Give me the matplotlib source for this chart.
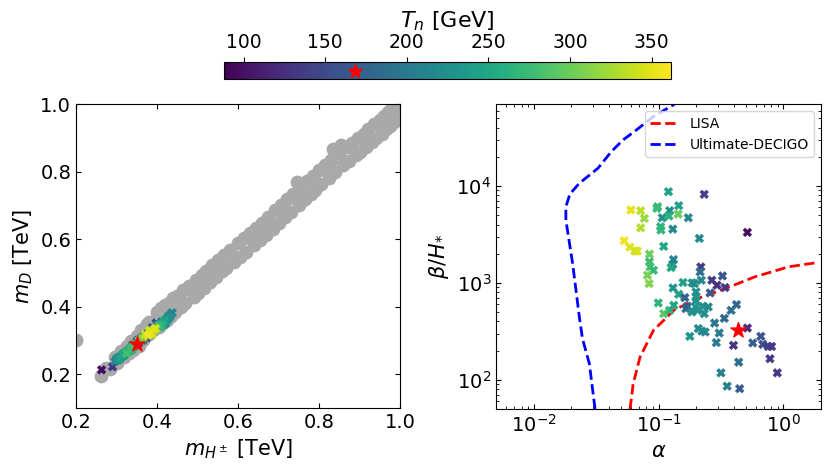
import numpy as np
import matplotlib
matplotlib.use('Agg')
from matplotlib import pyplot as plt
from matplotlib.colors import Normalize

# scanned points failing the GW condition (grey band)
mH_all = [0.200, 0.262, 0.275, 0.285, 0.295, 0.300, 0.310, 0.318, 0.325, 0.330, 0.335, 0.340,
          0.350, 0.355, 0.360, 0.365, 0.375, 0.380, 0.380, 0.390, 0.400, 0.405, 0.410, 0.415,
          0.420, 0.425, 0.430, 0.435, 0.440, 0.445, 0.450, 0.460, 0.465, 0.470, 0.480, 0.490,
          0.495, 0.500, 0.510, 0.515, 0.520, 0.530, 0.535, 0.545, 0.550, 0.560, 0.565, 0.570,
          0.580, 0.590, 0.600, 0.605, 0.615, 0.620, 0.630, 0.640, 0.645, 0.655, 0.660, 0.670,
          0.675, 0.685, 0.690, 0.700, 0.705, 0.715, 0.720, 0.730, 0.735, 0.745, 0.750, 0.755,
          0.765, 0.770, 0.780, 0.785, 0.790, 0.800, 0.805, 0.815, 0.825, 0.830, 0.835, 0.840,
          0.850, 0.855, 0.860, 0.870, 0.875, 0.880, 0.890, 0.895, 0.900, 0.910, 0.915, 0.920,
          0.930, 0.935, 0.940, 0.950, 0.955, 0.960, 0.965, 0.970, 0.975, 0.980, 0.985, 0.990,
          0.995, 1.000]
mD_all = [0.300, 0.195, 0.218, 0.215, 0.250, 0.232, 0.268, 0.250, 0.285, 0.262, 0.298, 0.272,
          0.312, 0.285, 0.330, 0.300, 0.348, 0.318, 0.355, 0.330, 0.385, 0.340, 0.395, 0.352,
          0.405, 0.362, 0.412, 0.372, 0.425, 0.385, 0.432, 0.400, 0.448, 0.410, 0.462, 0.428,
          0.478, 0.440, 0.495, 0.455, 0.505, 0.472, 0.522, 0.488, 0.538, 0.505, 0.552, 0.515,
          0.568, 0.532, 0.590, 0.548, 0.602, 0.562, 0.618, 0.582, 0.632, 0.598, 0.648, 0.612,
          0.665, 0.630, 0.685, 0.648, 0.700, 0.665, 0.718, 0.680, 0.735, 0.770, 0.702, 0.752,
          0.718, 0.772, 0.735, 0.788, 0.745, 0.805, 0.762, 0.818, 0.782, 0.835, 0.868, 0.798,
          0.855, 0.880, 0.818, 0.872, 0.832, 0.885, 0.848, 0.898, 0.858, 0.912, 0.872, 0.925,
          0.888, 0.940, 0.898, 0.952, 0.912, 0.965, 0.925, 0.975, 0.935, 0.990, 0.948, 1.000,
          0.958, 0.990]

# points with a detectable first-order transition
alpha = [0.120, 0.232, 0.060, 0.0719, 0.0982, 0.0969, 0.1227, 0.145, 0.077, 0.107,
         0.121, 0.1436, 0.173, 0.0719, 0.1038, 0.1045, 0.130, 0.514, 0.212, 0.053,
         0.0589, 0.0647, 0.0676, 0.1099, 0.0845, 0.0845, 0.1316, 0.130, 0.0856, 0.091,
         0.126, 0.218, 0.0815, 0.084, 0.215, 0.220, 0.157, 0.186, 0.194, 0.1306,
         0.145, 0.1624, 0.1995, 0.1995, 0.1995, 0.259, 0.267, 0.294, 0.325, 0.341,
         0.0994, 0.110, 0.1227, 0.1323, 0.1656, 0.170, 0.198, 0.226, 0.250, 0.232,
         0.205, 0.185, 0.421, 0.381, 0.281, 0.336, 0.208, 0.222, 0.236, 0.306,
         0.178, 0.514, 0.290, 0.398, 0.568, 0.659, 0.684, 0.756, 0.804, 0.438,
         0.780, 0.316, 0.893, 0.354, 0.446]
beta_H = [8730, 8200, 5650, 5560, 6110, 5870, 5560, 6270, 4630, 4700,
          4900, 5130, 4700, 3700, 3800, 3510, 3590, 3320, 2880, 2720,
          2340, 2130, 2130, 2380, 1980, 1650, 1740, 1550, 1460, 1350,
          1440, 1460, 1200, 985, 1300, 1065, 1010, 1000, 985, 887,
          763, 705, 807, 717, 651, 788, 1065, 946, 1180, 895,
          621, 482, 521, 587, 542, 574, 565, 574, 565, 482,
          521, 501, 597, 521, 385, 431, 338, 319, 311, 304,
          281, 342, 242, 227, 240, 281, 232, 221, 221, 152,
          165, 118, 118, 86, 81]
Tn = [240, 140, 350, 335, 270, 275, 220, 245, 320, 225,
      260, 300, 215, 330, 265, 268, 215, 95, 215, 355,
      350, 340, 345, 250, 300, 275, 210, 215, 280, 270,
      250, 135, 305, 310, 185, 215, 240, 220, 222, 230,
      245, 170, 222, 225, 228, 165, 135, 125, 160, 130,
      265, 290, 265, 250, 190, 170, 225, 225, 220, 222,
      225, 222, 175, 185, 195, 180, 215, 218, 215, 200,
      230, 120, 200, 130, 170, 160, 150, 140, 135, 185,
      135, 205, 130, 205, 165]
mH = [0.415, 0.372, 0.385, 0.392, 0.345, 0.335, 0.425, 0.322, 0.380, 0.305,
      0.412, 0.360, 0.432, 0.388, 0.330, 0.402, 0.318, 0.263, 0.436, 0.378,
      0.395, 0.370, 0.383, 0.418, 0.355, 0.340, 0.310, 0.420, 0.325, 0.405,
      0.315, 0.398, 0.365, 0.398, 0.362, 0.428, 0.308, 0.422, 0.312, 0.415,
      0.328, 0.345, 0.303, 0.430, 0.320, 0.375, 0.352, 0.368, 0.388, 0.380,
      0.338, 0.348, 0.408, 0.318, 0.355, 0.400, 0.426, 0.313, 0.410, 0.300,
      0.422, 0.332, 0.342, 0.392, 0.357, 0.350, 0.418, 0.306, 0.428, 0.365,
      0.325, 0.385, 0.403, 0.340, 0.360, 0.395, 0.348, 0.378, 0.358, 0.412,
      0.366, 0.296, 0.290, 0.437, 0.335]
mD = [0.352, 0.312, 0.322, 0.330, 0.290, 0.278, 0.365, 0.262, 0.326, 0.246,
      0.348, 0.302, 0.372, 0.318, 0.268, 0.342, 0.255, 0.213, 0.380, 0.315,
      0.335, 0.318, 0.330, 0.358, 0.300, 0.282, 0.250, 0.350, 0.262, 0.345,
      0.258, 0.352, 0.308, 0.335, 0.305, 0.366, 0.245, 0.360, 0.252, 0.346,
      0.270, 0.285, 0.242, 0.368, 0.258, 0.308, 0.300, 0.315, 0.338, 0.318,
      0.272, 0.288, 0.340, 0.262, 0.292, 0.346, 0.362, 0.255, 0.350, 0.246,
      0.356, 0.270, 0.282, 0.335, 0.298, 0.290, 0.355, 0.250, 0.372, 0.300,
      0.266, 0.325, 0.340, 0.286, 0.306, 0.332, 0.292, 0.322, 0.300, 0.355,
      0.305, 0.238, 0.222, 0.382, 0.278]

# benchmark point
bp_mH, bp_mD, bp_alpha, bp_beta, bp_Tn = 0.350, 0.290, 0.431, 329, 168

# sensitivity curves
lisa_alpha = [0.059, 0.0608, 0.0626, 0.071, 0.0804, 0.091, 0.110, 0.132, 0.205, 0.316, 0.589, 1.098, 1.81]
lisa_beta = [50, 66, 91, 171, 236, 324, 411, 521, 689, 840, 1153, 1465, 1611]
decigo_alpha = [0.031, 0.0279, 0.0246, 0.0232, 0.0205, 0.0181, 0.0181, 0.0195, 0.0232,
                0.0327, 0.0419, 0.052, 0.0667, 0.091, 0.132, 0.15]
decigo_beta = [50, 147, 265, 445, 1585, 4446, 6110, 8260, 10660,
               15240, 22650, 29900, 37950, 52100, 68900, 80000]

plt.rcParams['font.size'] = 15
fig = plt.figure(figsize=(8.31, 4.72), dpi=100)
ax1 = fig.add_axes([0.0915, 0.1356, 0.390, 0.644])
ax2 = fig.add_axes([0.597, 0.1335, 0.391, 0.646])
cax = fig.add_axes([0.2696, 0.8326, 0.538, 0.036])

norm = Normalize(vmin=88, vmax=362)

# hotter points drawn last in the mass plane
order = np.argsort(Tn)
ax1.scatter(mH_all, mD_all, s=80, c='darkgray', zorder=1)
sc = ax1.scatter(np.array(mH)[order], np.array(mD)[order], c=np.array(Tn)[order],
                 cmap='viridis', norm=norm, marker='X', s=40, linewidths=0.3, zorder=2)
ax1.scatter(bp_mH, bp_mD, marker='*', c='red', s=130, zorder=3)
ax1.set_xlim(0.2, 1.0)
ax1.set_ylim(0.1, 1.0)
ax1.set_xticks([0.2, 0.4, 0.6, 0.8, 1.0])
ax1.set_yticks([0.2, 0.4, 0.6, 0.8, 1.0])
ax1.set_xlabel(r'$m_{H^\pm}$ [TeV]')
ax1.set_ylabel(r'$m_D$ [TeV]')
ax1.tick_params(direction='in', top=True, right=True, labelsize=14)

ax2.plot(lisa_alpha, lisa_beta, '--', color='red', lw=2, label='LISA')
ax2.plot(decigo_alpha, decigo_beta, '--', color='blue', lw=2, label='Ultimate-DECIGO')
ax2.scatter(alpha, beta_H, c=Tn, cmap='viridis', norm=norm, marker='X', s=40, linewidths=0.3, zorder=3)
ax2.scatter(bp_alpha, bp_beta, marker='*', c='red', s=130, zorder=4)
ax2.set_xscale('log')
ax2.set_yscale('log')
ax2.set_xlim(0.005, 2.0)
ax2.set_ylim(50, 70000)
ax2.set_xlabel(r'$\alpha$')
ax2.set_ylabel(r'$\beta/H_{*}$')
ax2.tick_params(which='both', direction='in', top=True, right=True)
ax2.tick_params(labelsize=14)
ax2.legend(loc='upper right', fontsize=10)

cb = fig.colorbar(sc, cax=cax, orientation='horizontal')
cb.ax.xaxis.set_ticks_position('top')
cb.ax.xaxis.set_label_position('top')
cb.set_label(r'$T_n$ [GeV]', fontsize=16)
cb.ax.tick_params(labelsize=13.5)
cax.plot(bp_Tn, 0.5, marker='*', color='red', ms=10)

fig.savefig('out.png', dpi=100)
